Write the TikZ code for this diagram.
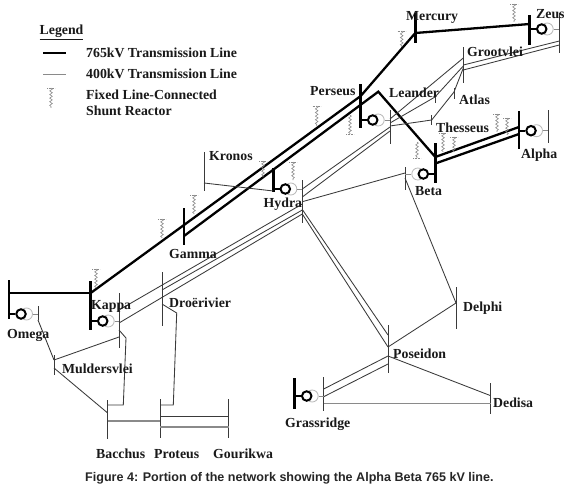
\documentclass[tikz,border=0pt]{standalone}
\usepackage{fontspec}
\setmainfont{Liberation Serif}
\setsansfont{Liberation Sans}
\usetikzlibrary{calc,decorations.pathmorphing}
\definecolor{linegray}{HTML}{3A3A3A}
\definecolor{softgray}{HTML}{8A8A8A}
\tikzset{
  heavy/.style={line width=2.3pt,black},
  light/.style={line width=0.85pt,linegray},
  paler/.style={line width=1.2pt,softgray},
  thickbus/.style={draw=none,fill=black,minimum width=2.6pt,inner sep=0pt,outer sep=0pt},
  thinbus/.style={draw=none,fill=linegray,minimum width=1pt,inner sep=0pt,outer sep=0pt},
  gencirc/.style={circle,draw=black,line width=2pt,fill=white,minimum size=9.5pt,inner sep=0pt},
  ghostcirc/.style={circle,draw=softgray!60,line width=0.8pt,minimum size=12pt,inner sep=0pt},
  lbl/.style={anchor=west,inner sep=0pt,font=\fontsize{13.8}{15}\selectfont\bfseries,text=black!90},
  coilline/.style={line width=0.6pt,softgray,decorate,decoration={snake,amplitude=1.3pt,segment length=3.6pt}},
  reactorcap/.style={line width=0.6pt,softgray,densely dotted},
}
% thick bus, second bus, row, direction, tag
\newcommand{\gensym}[5]{%
  \node[ghostcirc] (gh#5) at ($(#1 |- 0,#3)+(#4*17.5,0)$) {};
  \node[gencirc] (ci#5) at ($(#1 |- 0,#3)+(#4*12,0)$) {};
  \draw[line width=1.8pt] (#1 |- 0,#3) -- (ci#5);
  \draw[line width=0.9pt,softgray] (gh#5) -- (#2 |- 0,#3);
}
\newcommand{\reactor}[3]{%
  \draw[reactorcap] (#1-4,#2) -- (#1+4,#2);
  \draw[coilline] (#1,#2) -- (#1,#3);
}
\newcommand{\reactorup}[3]{%
  \draw[reactorcap] (#1-4,#3) -- (#1+4,#3);
  \draw[coilline] (#1,#2) -- (#1,#3);
}
\begin{document}
\begin{tikzpicture}[x=1pt,y=-1pt]
\useasboundingbox (0,0) rectangle (580,489);
\fill[white] (0,0) rectangle (580,489);

% --- thick buses
\foreach \n/\x/\a/\b in {omegaT/9/280/319,kappaT/90.7/281/330,gammaT/184/208/245,persT/360.7/84/128,
  mercT/415.3/13/43,zeusT/529.7/15/45,betaT/435.3/143/183,alphaT/519/111/149,hydraT/273.3/168/192,grassT/294.7/378/409}{
  \node[thickbus,minimum height={(\b-\a)*1pt}] (\n) at (\x,{(\a+\b)/2}) {};
}
% --- thin buses
\foreach \n/\x/\a/\b in {omegaB/38/306/320,kappaB/119/293/348,droB/162/272/326,mulB/54/355/375,bacB/107.7/400/439,
  proB/160.3/399/438,gouB/228.7/399/438,kroB/204/152/191,hydraB/302.3/180/223,leaB/390/110/144,
  l2B/435/92/103,atlB/454/88/99,theB/431.7/115/125,grooB/463.3/47/83,zeusB/559.3/13/53,alphaB/548/110/143,
  betaB/405/167/190,delB/456/287/329,posB/388/325/373,dedB/490.7/383/414,grassB/323.7/377/411}{
  \node[thinbus,minimum height={(\b-\a)*1pt}] (\n) at (\x,{(\a+\b)/2}) {};
}

% --- 765 kV
\draw[heavy] (omegaT |- 0,293) -- (kappaT |- 0,293);
\draw[heavy] (kappaT |- 0,293) -- (gammaT |- 0,225) -- (persT |- 0,96) -- (mercT |- 0,33) -- (zeusT |- 0,24);
\coordinate (apex) at (378.3,91.7);
\draw[heavy,line join=miter] (gammaT |- 0,236) -- (apex) -- (betaT |- 0,157);
\draw[heavy] (betaT |- 0,157) -- (alphaT |- 0,127);
\draw[heavy] (betaT |- 0,163.5) -- (alphaT |- 0,134);

% --- 400 kV
\begin{scope}[light]
\draw (omegaB |- 0,320) -- (mulB |- 0,360);
\draw (mulB |- 0,360) -- (kappaB |- 0,337);
\draw (mulB |- 0,368) -- (bacB |- 0,413);
\draw (kappaB |- 0,330) -- (126,338) -- (123.3,405) -- (bacB |- 0,405);
\draw (droB |- 0,304) -- (176.7,313) -- (173.3,405) -- (proB |- 0,405);
\draw (proB |- 0,416) -- (gouB |- 0,416);
\draw (kappaB |- 0,310) -- (hydraB |- 0,204);
\draw (droB |- 0,290) -- (hydraB |- 0,210);
\draw (kappaB |- 0,323) -- (hydraB |- 0,214);
\draw (kroB |- 0,183) -- (hydraT |- 0,191);
\draw (hydraB |- 0,189) -- (leaB |- 0,127);
\draw (hydraB |- 0,197) -- (leaB |- 0,131);
\draw (hydraB |- 0,201.7) -- (betaB |- 0,173);
\draw (betaB |- 0,178) -- (delB |- 0,303);
\draw (delB |- 0,303) -- (posB |- 0,347);
\draw (hydraB |- 0,209.5) -- (posB |- 0,335);
\draw (hydraB |- 0,214) -- (posB |- 0,347);
\draw (grassB |- 0,389) -- (posB |- 0,356);
\draw (grassB |- 0,396.7) -- (posB |- 0,364);
\draw (posB |- 0,356) -- (dedB |- 0,395.7);
\draw (leaB |- 0,119) -- (grooB |- 0,58);
\draw (leaB |- 0,123) -- (l2B |- 0,97) -- (grooB |- 0,66);
\draw (leaB |- 0,126) -- (theB |- 0,120) -- (atlB |- 0,92) -- (grooB |- 0,68);
\draw (grooB |- 0,65) -- (zeusB |- 0,41);
\draw (grooB |- 0,70) -- (zeusB |- 0,45);
\end{scope}
\draw[paler] (grassB |- 0,403.7) -- (dedB |- 0,403.7);
\draw[paler] (proB |- 0,427) -- (gouB |- 0,427);
\draw[paler] (bacB |- 0,421) -- (proB |- 0,421);

% --- generators
\gensym{omegaT}{omegaB}{314}{1}{om}
\gensym{kappaT}{kappaB}{321}{1}{ka}
\gensym{hydraT}{hydraB}{189}{1}{hy}
\gensym{persT}{leaB}{120}{1}{le}
\gensym{zeusT}{zeusB}{29}{1}{ze}
\gensym{alphaT}{alphaB}{130.7}{1}{al}
\gensym{betaT}{betaB}{174}{-1}{be}
\gensym{grassT}{grassB}{396}{1}{gr}

% --- shunt reactors
\reactor{51}{88}{108}
\reactor{96}{269}{288}
\reactor{162}{219}{238}
\reactor{194}{195}{214}
\reactor{263}{161}{177}
\reactor{293}{162}{180}
\reactor{316.7}{106}{126}
\reactorup{350}{115}{134}
\reactor{401.7}{31}{47}
\reactor{514}{4}{22}
\reactorup{417}{142}{158}
\reactor{443}{133}{152}
\reactor{454}{137}{152}
\reactor{497}{114}{132}
\reactor{507}{118}{135}

% --- legend
\node[lbl] (legendhead) at (39.5,32.5) {\underline{Legend}};
\coordinate (lh1) at (43,53); \coordinate (lh2) at (66,53);
\coordinate (ll1) at (43,74); \coordinate (ll2) at (66,74);
\draw[line width=2pt] (lh1) -- (lh2);
\draw[line width=0.8pt,softgray] (ll1) -- (ll2);
\node[lbl] (leg1) at (86,52.5) {765kV Transmission Line};
\node[lbl] (leg2) at (86,73.5) {400kV Transmission Line};
\node[lbl] (leg3) at (86,95) {Fixed Line-Connected};
\node[lbl] (leg4) at (86,111) {Shunt Reactor};

% --- station names
\node[lbl] (tMercury) at (406,17) {Mercury};
\node[lbl] (tZeus) at (536,14) {Zeus};
\node[lbl] (tGroot) at (467,51.5) {Grootvlei};
\node[lbl] (tPerseus) at (310,91) {Perseus};
\node[lbl] (tLeander) at (389,92.5) {Leander};
\node[lbl] (tAtlas) at (459,100) {Atlas};
\node[lbl] (tThess) at (436,127.5) {Thesseus};
\node[lbl] (tAlpha) at (521,155.5) {Alpha};
\node[lbl] (tBeta) at (415,191) {Beta};
\node[lbl] (tKronos) at (209,156) {Kronos};
\node[lbl] (tHydra) at (263.5,204) {Hydra};
\node[lbl] (tGamma) at (169,254) {Gamma};
\node[lbl] (tDro) at (169,303) {Droërivier};
\node[lbl] (tKappa) at (91,306) {Kappa};
\node[lbl] (tOmega) at (7,335) {Omega};
\node[lbl] (tMul) at (62,369) {Muldersvlei};
\node[lbl] (tBac) at (96,454) {Bacchus};
\node[lbl] (tPro) at (154,454) {Proteus};
\node[lbl] (tGou) at (213,454) {Gourikwa};
\node[lbl] (tDel) at (463,308) {Delphi};
\node[lbl] (tPos) at (393,354) {Poseidon};
\node[lbl] (tDed) at (493,403) {Dedisa};
\node[lbl] (tGrass) at (285,424) {Grassridge};

% --- caption
\node[anchor=west,inner sep=0pt,font=\sffamily\bfseries\fontsize{12.55}{14}\selectfont,text=black!85] (caption) at (85,478)
  {Figure 4: Portion of the network showing the Alpha Beta 765 kV line.};
\end{tikzpicture}
\end{document}
